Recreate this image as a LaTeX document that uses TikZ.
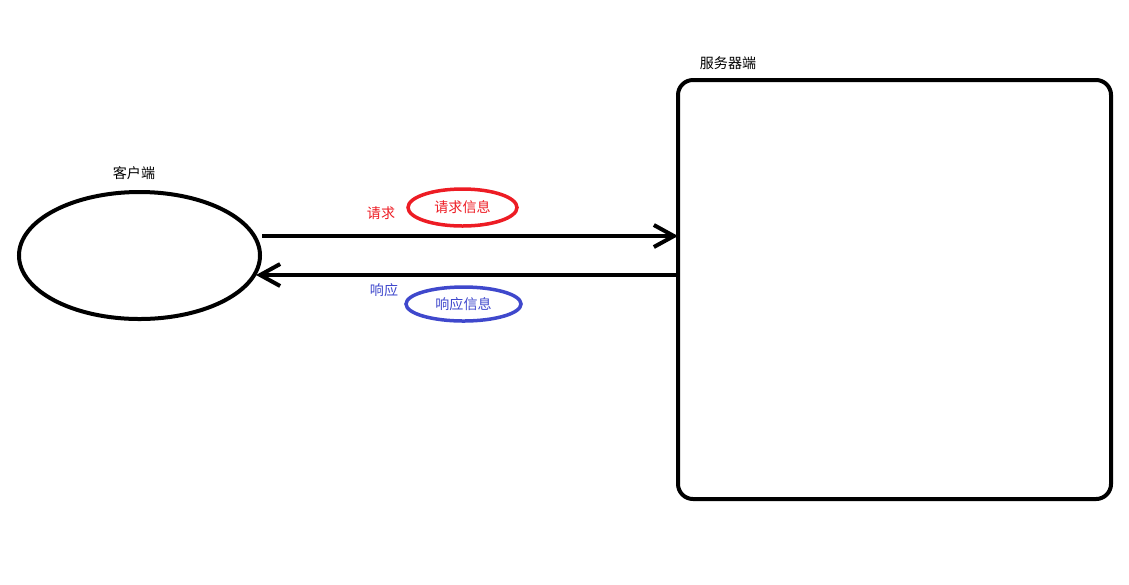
\documentclass[tikz,border=0pt]{standalone}
\usepackage{fontspec}
\newfontfamily\cjk{Noto Sans CJK SC}
\usepackage{xcolor}
\usepackage{tikz}
\usetikzlibrary{shapes.geometric, arrows.meta, positioning, calc}
\definecolor{reqdraw}{HTML}{ED1C24}
\definecolor{resdraw}{HTML}{3F48CC}
\tikzset{
  lbl/.style={font=\cjk\fontsize{8}{10}\selectfont, inner sep=1pt},
  endpt/.style={draw=black, line width=0.08cm},
  msg/.style={ellipse, line width=0.07cm, lbl, inner sep=0pt},
  arr/.style={-{Straight Barb[length=0.4cm, width=0.44cm]}, line width=0.08cm, draw=black},
}
\begin{document}
\begin{tikzpicture}
  \useasboundingbox (0,0) rectangle (22.58,-11.68);

  \node[endpt, ellipse, minimum width=4.82cm, minimum height=2.54cm] (client) at (2.79,-5.11) {};
  \node[endpt, rectangle, rounded corners=0.3cm, minimum width=8.66cm, minimum height=8.38cm] (server) at (17.89,-5.79) {};

  \node[lbl] (clientlbl) at (2.68,-3.46) {客户端};
  \node[lbl] (serverlbl) at (14.56,-1.26) {服务器端};

  \draw[arr] ([yshift=0.39cm]client.east) -- ([yshift=0.39cm,xshift=0.04cm]client.east -| server.west);
  \draw[arr] ([yshift=-0.39cm]client.east -| server.west) -- ([yshift=-0.39cm,xshift=-0.12cm]client.east);

  \node[msg, draw=reqdraw, text=reqdraw, minimum width=2.18cm, minimum height=0.74cm] (reqmsg) at (9.25,-4.15) {请求信息};
  \node[lbl, text=reqdraw] (reqlbl) at (7.62,-4.26) {请求};

  \node[msg, draw=resdraw, text=resdraw, minimum width=2.3cm, minimum height=0.68cm] (resmsg) at (9.27,-6.08) {响应信息};
  \node[lbl, text=resdraw] (reslbl) at (7.68,-5.8) {响应};
\end{tikzpicture}
\end{document}
